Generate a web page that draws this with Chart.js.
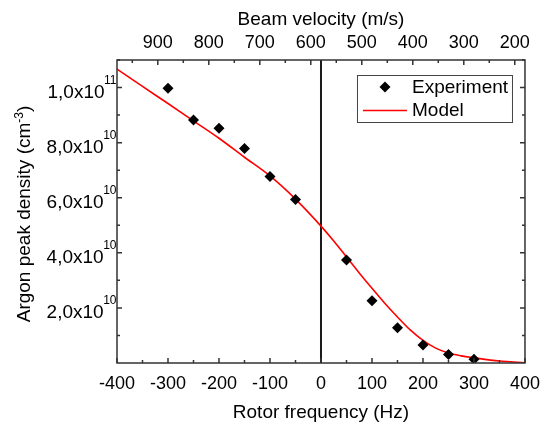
<!DOCTYPE html>
<html>
<head>
<meta charset="utf-8">
<script src="https://cdn.jsdelivr.net/npm/chart.js@4.4.1/dist/chart.umd.min.js"></script>
<style>
  html, body { margin: 0; padding: 0; background: #fff; }
</style>
</head>
<body>
<canvas id="densityChart" width="550" height="426"></canvas>
<script>
// measured points (rotor frequency in Hz, density in cm^-3)
const rotorFreq = [-300, -250, -200, -150, -100, -50, 50, 100, 150, 200, 250, 300];
const expDensity = [9.97e10, 8.82e10, 8.52e10, 7.79e10, 6.77e10, 5.94e10, 3.74e10, 2.26e10, 1.28e10, 6.5e9, 3.1e9, 1.4e9];

// model curve
const modelFreq = [-400, -350, -300, -250, -200, -150, -100, -50, 0, 25, 50, 75, 100, 125, 150, 175, 200, 225, 250, 275, 300, 350, 400];
const modelDensity = [1.067e11, 1.004e11, 9.42e10, 8.79e10, 8.16e10, 7.47e10, 6.79e10, 5.95e10, 4.97e10, 4.43e10, 3.85e10, 3.27e10, 2.71e10, 2.17e10, 1.67e10, 1.2e10, 8.2e9, 5.4e9, 3.6e9, 2.6e9, 1.9e9, 0.7e9, 0.1e9];

// tick labels
const freqTicks = [-400, -300, -200, -100, 0, 100, 200, 300, 400];
const velocityTicks = [900, 800, 700, 600, 500, 400, 300, 200];
const densityTicks = [2e10, 4e10, 6e10, 8e10, 1e11];

// beam velocity at zero rotor frequency (m/s), velocity = v0 - f
const velocityAtZero = 580;

const fontFamily = "'Liberation Sans', Arial, sans-serif";

function withMinor(major, lo, hi, half) {
    const all = [];
    major.forEach(function (v) {
        [v - half, v, v + half].forEach(function (t) {
            if (t >= lo && t <= hi && !all.includes(t)) all.push(t);
        });
    });
    return all.sort(function (a, b) { return a - b; });
}

// inward ticks, frame, zero line, y labels with exponents, y title, legend
const framePlugin = {
    id: 'framePlugin',
    beforeDatasetsDraw(chart) {
        const { ctx, chartArea: a, scales } = chart;
        const x0 = scales.x.getPixelForValue(0);
        ctx.save();
        ctx.strokeStyle = '#1a1a1a';
        ctx.lineWidth = 2;
        ctx.beginPath();
        ctx.moveTo(x0, a.top);
        ctx.lineTo(x0, a.bottom);
        ctx.stroke();
        ctx.restore();
    },
    afterDatasetsDraw(chart) {
        const { ctx, chartArea: a, scales } = chart;
        ctx.save();
        ctx.strokeStyle = '#333';
        ctx.lineWidth = 1.5;
        ctx.strokeRect(a.left, a.top, a.right - a.left, a.bottom - a.top);

        ctx.beginPath();
        scales.x.ticks.forEach(function (t) {
            const len = freqTicks.includes(t.value) ? 5 : 3;
            const p = scales.x.getPixelForValue(t.value);
            ctx.moveTo(p, a.bottom);
            ctx.lineTo(p, a.bottom - len);
        });
        scales.x2.ticks.forEach(function (t) {
            const len = velocityTicks.includes(t.value) ? 5 : 3;
            const p = scales.x2.getPixelForValue(t.value);
            ctx.moveTo(p, a.top);
            ctx.lineTo(p, a.top + len);
        });
        scales.y.ticks.forEach(function (t) {
            const len = densityTicks.includes(t.value) ? 5 : 3;
            const p = scales.y.getPixelForValue(t.value);
            ctx.moveTo(a.left, p);
            ctx.lineTo(a.left + len, p);
            ctx.moveTo(a.right, p);
            ctx.lineTo(a.right - len, p);
        });
        ctx.stroke();

        // y tick labels like 2,0x10^10
        const mainFont = '19px ' + fontFamily;
        const supFont = '12px ' + fontFamily;
        ctx.fillStyle = '#000';
        ctx.textBaseline = 'alphabetic';
        ctx.textAlign = 'right';
        densityTicks.forEach(function (v) {
            const exp = Math.floor(Math.log10(v) + 1e-9);
            const mant = (v / Math.pow(10, exp)).toFixed(1).replace('.', ',');
            const y = scales.y.getPixelForValue(v);
            const right = a.left - 0.5;
            ctx.font = supFont;
            const sw = ctx.measureText(String(exp)).width;
            ctx.fillText(String(exp), right, y - 4);
            ctx.font = mainFont;
            ctx.fillText(mant + 'x10', right - sw + 0.5, y + 10);
        });

        // y title
        ctx.save();
        ctx.translate(30, (a.top + a.bottom) / 2 + 2.5);
        ctx.rotate(-Math.PI / 2);
        ctx.textAlign = 'left';
        const tMain = 'Argon peak density (cm', tSup = '-3', tEnd = ')';
        ctx.font = mainFont;
        const wMain = ctx.measureText(tMain).width, wEnd = ctx.measureText(tEnd).width;
        ctx.font = supFont;
        const wSup = ctx.measureText(tSup).width;
        let tx = -(wMain + wSup + wEnd) / 2;
        ctx.font = mainFont;
        ctx.fillText(tMain, tx, 0);
        tx += wMain;
        ctx.font = supFont;
        ctx.fillText(tSup, tx, -7.5);
        tx += wSup;
        ctx.font = mainFont;
        ctx.fillText(tEnd, tx, 0);
        ctx.restore();

        // legend box
        const lx = a.right - 168, ly = a.top + 15, lw = 155, lh = 47;
        ctx.strokeStyle = '#444';
        ctx.lineWidth = 1;
        ctx.strokeRect(lx + 0.5, ly + 0.5, lw, lh);
        const dsExp = chart.data.datasets[0], dsMod = chart.data.datasets[1];
        const mx = lx + 28, my1 = ly + 12, my2 = ly + 35.5;
        ctx.fillStyle = dsExp.backgroundColor;
        ctx.beginPath();
        ctx.moveTo(mx, my1 - 5.5);
        ctx.lineTo(mx + 5.5, my1);
        ctx.lineTo(mx, my1 + 5.5);
        ctx.lineTo(mx - 5.5, my1);
        ctx.closePath();
        ctx.fill();
        ctx.strokeStyle = dsMod.borderColor;
        ctx.lineWidth = dsMod.borderWidth;
        ctx.beginPath();
        ctx.moveTo(lx + 6, my2);
        ctx.lineTo(lx + 50, my2);
        ctx.stroke();
        ctx.fillStyle = '#000';
        ctx.font = mainFont;
        ctx.textAlign = 'left';
        ctx.textBaseline = 'middle';
        ctx.fillText(dsExp.label, lx + 55, my1 + 0.5);
        ctx.fillText(dsMod.label, lx + 55, my2);
        ctx.restore();
    }
};

const tickFont = { family: fontFamily, size: 18 };
const titleFont = { family: fontFamily, size: 19 };

const ctx = document.getElementById('densityChart').getContext('2d');
const densityChart = new Chart(ctx, {
    type: 'line',
    data: {
        datasets: [{
            label: 'Experiment',
            data: rotorFreq.map(function (f, i) { return { x: f, y: expDensity[i] }; }),
            showLine: false,
            pointStyle: 'rectRot',
            pointRadius: 5.5,
            backgroundColor: '#000',
            borderColor: '#000',
            borderWidth: 0
        }, {
            label: 'Model',
            data: modelFreq.map(function (f, i) { return { x: f, y: modelDensity[i] }; }),
            borderColor: '#ff0000',
            borderWidth: 1.6,
            pointRadius: 0,
            cubicInterpolationMode: 'monotone',
            fill: false
        }]
    },
    options: {
        responsive: false,
        animation: false,
        devicePixelRatio: 1,
        layout: { padding: { left: 0, right: 21, top: 0, bottom: 0 } },
        plugins: {
            legend: { display: false },
            tooltip: { enabled: false }
        },
        scales: {
            x: {
                type: 'linear',
                position: 'bottom',
                min: -400,
                max: 400,
                afterBuildTicks: function (s) {
                    s.ticks = withMinor(freqTicks, -400, 400, 50).map(function (v) { return { value: v }; });
                },
                afterFit: function (s) { s.height = 63; },
                ticks: {
                    autoSkip: false,
                    maxRotation: 0,
                    padding: 10,
                    color: '#000',
                    font: tickFont,
                    callback: function (v) { return freqTicks.includes(v) ? String(v) : ''; }
                },
                grid: { display: false, drawTicks: false },
                border: { display: false },
                title: {
                    display: true,
                    text: 'Rotor frequency (Hz)',
                    color: '#000',
                    font: titleFont,
                    padding: { top: 0, bottom: 1.5 }
                }
            },
            x2: {
                type: 'linear',
                position: 'top',
                reverse: true,
                min: velocityAtZero - 400,
                max: velocityAtZero + 400,
                afterBuildTicks: function (s) {
                    s.ticks = withMinor(velocityTicks, velocityAtZero - 400, velocityAtZero + 400, 50).map(function (v) { return { value: v }; });
                },
                afterFit: function (s) { s.height = 60; },
                ticks: {
                    autoSkip: false,
                    maxRotation: 0,
                    padding: 6,
                    color: '#000',
                    font: tickFont,
                    callback: function (v) { return velocityTicks.includes(v) ? String(v) : ''; }
                },
                grid: { display: false, drawTicks: false },
                border: { display: false },
                title: {
                    display: true,
                    text: 'Beam velocity (m/s)',
                    color: '#000',
                    font: titleFont,
                    padding: { top: 8, bottom: 0 }
                }
            },
            y: {
                type: 'linear',
                min: 0,
                max: 1.1e11,
                afterBuildTicks: function (s) {
                    s.ticks = withMinor(densityTicks, 0, 1.1e11, 1e10).map(function (v) { return { value: v }; });
                },
                afterFit: function (s) { s.width = 117; },
                ticks: { display: false },
                grid: { display: false, drawTicks: false },
                border: { display: false }
            }
        }
    },
    plugins: [framePlugin]
});
</script>
</body>
</html>
